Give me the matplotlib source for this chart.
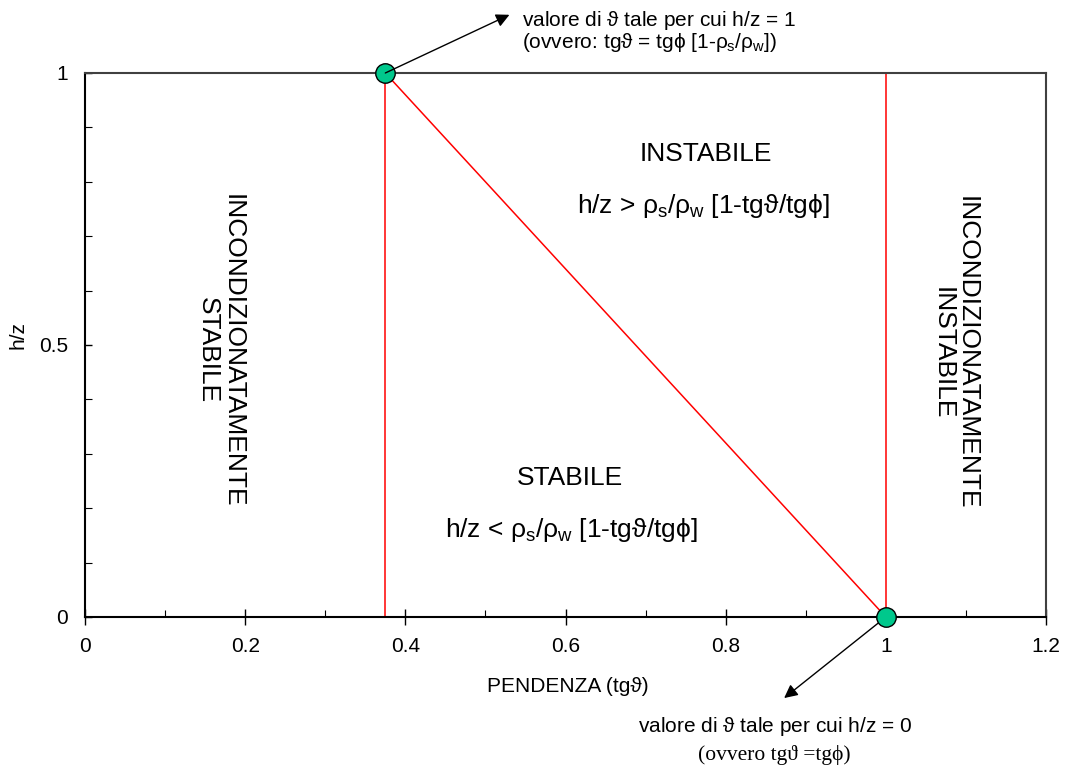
import matplotlib
matplotlib.use("Agg")
import matplotlib.pyplot as plt
from matplotlib.ticker import MultipleLocator

SANS = ['Liberation Sans', 'DejaVu Sans']
SERIF = ['Liberation Serif', 'DejaVu Serif']
plt.rcParams['font.family'] = SANS
plt.rcParams['mathtext.fontset'] = 'custom'
plt.rcParams['mathtext.rm'] = 'Liberation Sans'
plt.rcParams['mathtext.it'] = 'Liberation Sans'

# data
tg_limit = 0.375      # tg(theta) for which h/z = 1
tg_phi = 1.0          # tg(theta) for which h/z = 0
vert_x = [tg_limit, tg_phi]
line_x = [tg_limit, tg_phi]
line_y = [1.0, 0.0]
pts_x = [tg_limit, tg_phi]
pts_y = [1.0, 0.0]
xticks = [0, 0.2, 0.4, 0.6, 0.8, 1.0, 1.2]
xticklabels = ['0', '0.2', '0.4', '0.6', '0.8', '1', '1.2']
yticks = [0, 0.5, 1]
yticklabels = ['0', '0.5', '1']

W, H = 1069, 767
fig = plt.figure(figsize=(W / 100, H / 100), dpi=100)
ax = fig.add_axes([85 / W, 1 - 617 / H, (1046 - 85) / W, (617 - 73) / H])
ax.set_xlim(0, 1.2)
ax.set_ylim(0, 1)

for vx in vert_x:
    ax.plot([vx, vx], [0, 1], color='red', lw=1.1, zorder=2)
ax.plot(line_x, line_y, color='red', lw=1.1, zorder=2)
ax.plot(pts_x, pts_y, 'o', ms=14, mfc='#00C88C', mec='black', mew=1, zorder=5, clip_on=False)

ax.set_xticks(xticks)
ax.set_xticklabels(xticklabels)
ax.set_yticks(yticks)
ax.set_yticklabels(yticklabels)
ax.xaxis.set_minor_locator(MultipleLocator(0.1))
ax.yaxis.set_minor_locator(MultipleLocator(0.1))
ax.tick_params(axis='x', which='major', direction='inout', length=11, width=1, labelsize=15, pad=9)
ax.tick_params(axis='y', which='major', direction='in', length=5, width=1, labelsize=15, pad=12)
ax.tick_params(which='minor', direction='in', length=5, width=0.8)
ax.spines['left'].set_color('black')
ax.spines['bottom'].set_color('black')
ax.spines['top'].set_color('#404040')
ax.spines['right'].set_color('#404040')
for s in ax.spines.values():
    s.set_linewidth(1.5)

fig.text(18 / W, 1 - 335 / H, 'h/z', rotation=90, ha='center', va='center', fontsize=15)
fig.text(568 / W, 1 - 687 / H, 'PENDENZA (tg\u03d1)', ha='center', va='center', fontsize=15)

RS = 19
ax.text(0.775, 0.838, 'INSTABILE', ha='center', va='baseline', fontsize=RS)
ax.text(0.614, 0.743, r'h/z > $\rho_\mathrm{s}$/$\rho_\mathrm{w}$ [1-tg$\vartheta$/tg$\phi$]',
        ha='left', va='baseline', fontsize=RS)
ax.text(0.606, 0.243, 'STABILE', ha='center', va='baseline', fontsize=RS)
ax.text(0.765, 0.147, r'h/z < $\rho_\mathrm{s}$/$\rho_\mathrm{w}$ [1-tg$\vartheta$/tg$\phi$]',
        ha='right', va='baseline', fontsize=RS)
ax.text(0.169, 0.49, 'INCONDIZIONATAMENTE\nSTABILE', rotation=270, ha='center', va='center',
        fontsize=RS, linespacing=1.0, multialignment='center')
ax.text(1.086, 0.485, 'INCONDIZIONATAMENTE\nINSTABILE', rotation=270, ha='center', va='center',
        fontsize=RS, linespacing=1.0, multialignment='center')

# annotations
ax.annotate('', xy=(0.530, 1.107), xytext=(tg_limit, 1.0), annotation_clip=False,
            arrowprops=dict(arrowstyle='-|>', color='black', lw=1, mutation_scale=20,
                            shrinkA=0, shrinkB=0), zorder=6)
fig.text(522 / W, 1 - 20 / H, r'valore di $\vartheta$ tale per cui h/z = 1', ha='left', va='center', fontsize=15)
fig.text(522 / W, 1 - 42 / H, r'(ovvero: tg$\vartheta$ = tg$\phi$ [1-$\rho_\mathrm{s}$/$\rho_\mathrm{w}$])',
         ha='left', va='center', fontsize=15)

ax.annotate('', xy=(0.873, -0.149), xytext=(tg_phi, 0.0), annotation_clip=False,
            arrowprops=dict(arrowstyle='-|>', color='black', lw=1, mutation_scale=20,
                            shrinkA=7, shrinkB=0))
fig.text(775 / W, 1 - 727 / H, r'valore di $\vartheta$ tale per cui h/z = 0', ha='center', va='center', fontsize=15)
fig.text(774 / W, 1 - 755 / H, '(ovvero tg\u03d1 =tg\u03d5)', ha='center', va='center', fontsize=15.5,
         family=SERIF)

fig.savefig('out.png', dpi=100)
